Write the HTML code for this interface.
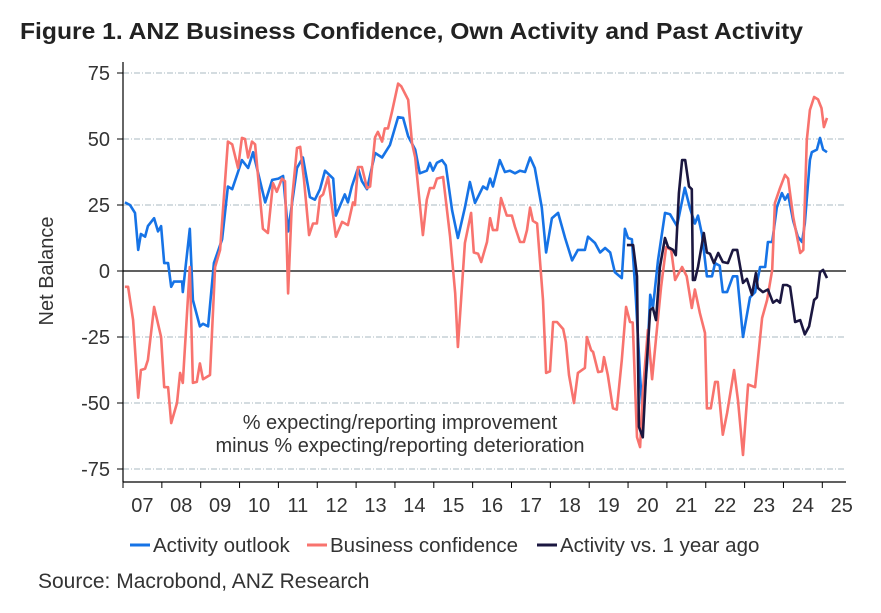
<!DOCTYPE html>
<html><head><meta charset="utf-8"><style>
body{margin:0;background:#fff;}
svg text{font-family:"Liberation Sans",Arial,sans-serif;}
</style></head><body>
<svg width="881" height="608" viewBox="0 0 881 608" xmlns="http://www.w3.org/2000/svg">
<text x="20" y="39" font-size="23" font-weight="bold" fill="#222" textLength="783" lengthAdjust="spacingAndGlyphs">Figure 1. ANZ Business Confidence, Own Activity and Past Activity</text>
<g id="grid"></g>
<g id="yaxis"></g>
<g id="xaxis"></g>
<text transform="translate(53,271) rotate(-90)" text-anchor="middle" font-size="20" fill="#333">Net Balance</text>
<g id="series"></g>
<text x="400" y="429" text-anchor="middle" font-size="20" fill="#333">% expecting/reporting improvement</text>
<text x="400" y="452" text-anchor="middle" font-size="20" fill="#333">minus % expecting/reporting deterioration</text>
<g>
<g><line x1="130" y1="545" x2="150" y2="545" stroke="#1673e6" stroke-width="3"/><text x="153" y="552" font-size="20.5" fill="#333">Activity outlook</text></g>
<g><line x1="307" y1="545" x2="327" y2="545" stroke="#f8736e" stroke-width="3"/><text x="330" y="552" font-size="20.5" fill="#333">Business confidence</text></g>
<g><line x1="537" y1="545" x2="557" y2="545" stroke="#1b1740" stroke-width="3"/><text x="560" y="552" font-size="20.5" fill="#333">Activity vs. 1 year ago</text></g>
</g>
<text x="38" y="588" font-size="21" fill="#333">Source: Macrobond, ANZ Research</text>
</svg>
<script>
const yTicks=[75,50,25,0,-25,-50,-75];
const yearTicks=[2007,2008,2009,2010,2011,2012,2013,2014,2015,2016,2017,2018,2019,2020,2021,2022,2023,2024,2025];
const yearLabels=["07","08","09","10","11","12","13","14","15","16","17","18","19","20","21","22","23","24","25"];
const outlookT=[2007.05,2007.18,2007.31,2007.39,2007.46,2007.57,2007.64,2007.80,2007.90,2007.98,2008.06,2008.16,2008.24,2008.31,2008.52,2008.54,2008.72,2008.80,2008.98,2009.06,2009.19,2009.34,2009.55,2009.70,2009.81,2009.96,2010.06,2010.22,2010.35,2010.66,2010.84,2011.0,2011.12,2011.25,2011.48,2011.63,2011.81,2011.94,2012.07,2012.20,2012.41,2012.48,2012.71,2012.79,2012.89,2013.05,2013.15,2013.28,2013.49,2013.67,2013.87,2014.08,2014.21,2014.34,2014.52,2014.64,2014.82,2014.90,2014.98,2015.08,2015.21,2015.31,2015.47,2015.62,2015.80,2015.93,2016.06,2016.27,2016.37,2016.45,2016.52,2016.70,2016.83,2016.96,2017.09,2017.22,2017.35,2017.48,2017.60,2017.78,2017.89,2018.04,2018.20,2018.38,2018.56,2018.71,2018.89,2018.97,2019.15,2019.28,2019.41,2019.54,2019.66,2019.84,2019.92,2020.0,2020.10,2020.20,2020.31,2020.38,2020.49,2020.57,2020.64,2020.77,2020.95,2021.08,2021.26,2021.46,2021.59,2021.72,2021.80,2021.90,2022.03,2022.16,2022.24,2022.36,2022.44,2022.55,2022.70,2022.81,2022.96,2023.14,2023.27,2023.40,2023.53,2023.60,2023.71,2023.83,2023.96,2024.04,2024.12,2024.25,2024.37,2024.48,2024.55,2024.68,2024.73,2024.86,2024.94,2025.02,2025.12];
const outlookV=[26,25,22,8,14,13,17,20,15,17,3,3,-6,-4,-4,-8,16,-11,-21,-20,-21,3,12,32,31,37.5,42,39,45,26,34.5,35,36,15,39,43,28,27,31,38,35,21,29,26,32,39,34,31,44.7,43,47.7,58.3,58,51,46,37,38,41,38,41,42,40,23,12.5,24,33.7,25.8,32,31,35,32,42,37.5,38,37,38,37.5,43,39,24,7,20,22,12.5,4,8,8,13,10.6,7,8.7,7,-0.4,-2.7,16,12.5,12,-10,-40,-55,-35,-9,-14,4,22,21.5,17,31.5,24,18,21,14,-2,-2,3,2,-8,-8,-2,-2,-25,-10,-8,1.5,1.5,11,11,24,29.5,27,29,19,13,11,18,42,45,46,50.4,46,45];
const confT=[2007.05,2007.13,2007.26,2007.39,2007.46,2007.57,2007.64,2007.80,2007.98,2008.06,2008.16,2008.24,2008.39,2008.47,2008.54,2008.72,2008.80,2008.90,2008.98,2009.06,2009.24,2009.37,2009.50,2009.70,2009.81,2009.96,2010.06,2010.14,2010.22,2010.32,2010.40,2010.60,2010.73,2010.86,2010.96,2011.09,2011.17,2011.25,2011.35,2011.48,2011.56,2011.66,2011.79,2011.89,2011.99,2012.07,2012.15,2012.28,2012.48,2012.64,2012.79,2012.92,2012.97,2013.05,2013.15,2013.28,2013.36,2013.49,2013.56,2013.67,2013.74,2013.82,2013.92,2014.08,2014.16,2014.34,2014.44,2014.52,2014.72,2014.82,2014.90,2015.0,2015.08,2015.24,2015.42,2015.55,2015.62,2015.80,2015.96,2016.03,2016.14,2016.22,2016.37,2016.45,2016.52,2016.63,2016.73,2016.88,2017.01,2017.09,2017.22,2017.32,2017.40,2017.48,2017.55,2017.66,2017.81,2017.89,2017.99,2018.07,2018.17,2018.33,2018.40,2018.48,2018.61,2018.71,2018.89,2018.94,2019.05,2019.10,2019.23,2019.33,2019.38,2019.48,2019.61,2019.71,2019.84,2019.95,2020.05,2020.12,2020.23,2020.31,2020.38,2020.51,2020.62,2020.75,2020.85,2020.98,2021.11,2021.21,2021.39,2021.51,2021.64,2021.72,2021.85,2021.98,2022.03,2022.13,2022.24,2022.31,2022.44,2022.55,2022.73,2022.83,2022.96,2023.09,2023.27,2023.45,2023.58,2023.71,2023.78,2023.91,2024.04,2024.12,2024.25,2024.43,2024.51,2024.60,2024.68,2024.79,2024.89,2024.98,2025.04,2025.12];
const confV=[-6,-6,-18.6,-48,-37.5,-37,-33.7,-13.6,-25,-44,-44,-57.6,-50,-38.6,-42.4,1.5,-42.4,-42,-35,-41,-39.4,1.5,8,49,48,39,50.4,50,43,49,48,16,14.4,33.3,30,35,34,-8.5,27,46.6,47,34.5,13.6,18,18,28,29,35.6,13,18.6,17.4,26,25,39.4,39.4,31.4,32,50.7,52.7,49,54,54,60,71,70,64.8,48.5,43,13.6,27,31.4,31.4,35,35.6,13,-8.5,-28.8,10.6,22,7,6.5,3.4,11,20,15.5,15.5,27.6,21,21,16.7,11,11,15.5,24,19,18,-11,-38.6,-38,-19.3,-19.3,-22,-27,-39.4,-50,-38.6,-36.7,-25,-30,-30.7,-38.3,-38,-32.6,-39.4,-52,-52.5,-33.7,-13.6,-19.3,-19.5,-62.9,-66.7,-46,-22.3,-41,-21,-6,9,8,-3.4,1.5,-2,-14,-7,-16,-23.5,-52,-52,-42,-42,-62,-53.8,-37.5,-49,-69.7,-43,-44,-17.8,-11,0.4,25.8,31.4,36.4,35,20.5,6.8,8,49.6,61,65.9,65,61.7,54.5,58];
const pastT=[2019.97,2020.13,2020.23,2020.28,2020.38,2020.46,2020.57,2020.64,2020.72,2020.82,2020.95,2021.03,2021.16,2021.23,2021.31,2021.39,2021.47,2021.57,2021.64,2021.67,2021.72,2021.80,2021.95,2022.03,2022.11,2022.21,2022.32,2022.44,2022.57,2022.70,2022.81,2022.96,2023.06,2023.19,2023.29,2023.34,2023.47,2023.60,2023.73,2023.83,2023.91,2023.99,2024.09,2024.17,2024.30,2024.43,2024.55,2024.66,2024.79,2024.86,2024.94,2025.02,2025.12];
const pastV=[9.8,9.8,-2,-59,-63,-40,-14.8,-14,-18.6,1.5,12.5,9,8,6,29.5,42,42,32,31,-3.4,-3.4,1.5,14.4,7,6.5,3,6.8,3.4,3,8,8,-4.5,-3,-9,-0.8,-6.4,-8,-7,-12,-11,-12,-5.3,-5.3,-6,-19.3,-18.6,-24,-21,-11,-10,-0.4,0.4,-2.7];

const NS="http://www.w3.org/2000/svg";
const X0=123,PXY=38.85,Y0=271,PXV=2.64;
function xs(t){return X0+(t-2007)*PXY;}
function ys(v){return Y0-v*PXV;}
function mk(tag,attrs,parent){const e=document.createElementNS(NS,tag);for(const k in attrs)e.setAttribute(k,attrs[k]);parent.appendChild(e);return e;}
const grid=document.getElementById('grid'),ya=document.getElementById('yaxis'),xa=document.getElementById('xaxis'),ser=document.getElementById('series');
yTicks.forEach(v=>{
  const y=ys(v);
  if(v!==0){const g=mk('line',{x1:123,x2:846,y1:y,y2:y,stroke:'#aab8c0','stroke-width':1,'stroke-dasharray':'6,2,1,2'},grid);
  
  }
  const tk=mk('line',{x1:117,x2:123,y1:y,y2:y,stroke:'#000','stroke-width':1},ya);
  
  
  const tl=mk('text',{x:110,y:y+7,'text-anchor':'end','font-size':20,fill:'#333'},ya);
  tl.textContent=v;
  
  
});
const zl=mk('line',{x1:123,x2:846,y1:ys(0),y2:ys(0),stroke:'#000','stroke-width':1.2},grid);


const yl=mk('line',{x1:123,x2:123,y1:62,y2:482,stroke:'#000','stroke-width':1.2},ya);


const xl=mk('line',{x1:123,x2:846,y1:482,y2:482,stroke:'#000','stroke-width':1.2},xa);


yearTicks.forEach((t,i)=>{
  const x=xs(t);
  const tk=mk('line',{x1:x,x2:x,y1:482,y2:488,stroke:'#000','stroke-width':1},xa);
  
  
  const tl=mk('text',{x:xs(t+0.5),y:512,'text-anchor':'middle','font-size':20,fill:'#333'},xa);
  tl.textContent=yearLabels[i];
  
  
});
function line(T,V,color,name){
  const d=T.map((t,i)=>(i?'L':'M')+xs(t).toFixed(1)+','+ys(V[i]).toFixed(1)).join('');
  const p=mk('path',{d:d,fill:'none',stroke:color,'stroke-width':2.6,'stroke-linejoin':'round'},ser);
  
  
}
line(outlookT,outlookV,'#1673e6','activity-outlook-line');
line(confT,confV,'#f8736e','business-confidence-line');
line(pastT,pastV,'#1b1740','activity-vs-year-ago-line');
</script>
</body></html>
